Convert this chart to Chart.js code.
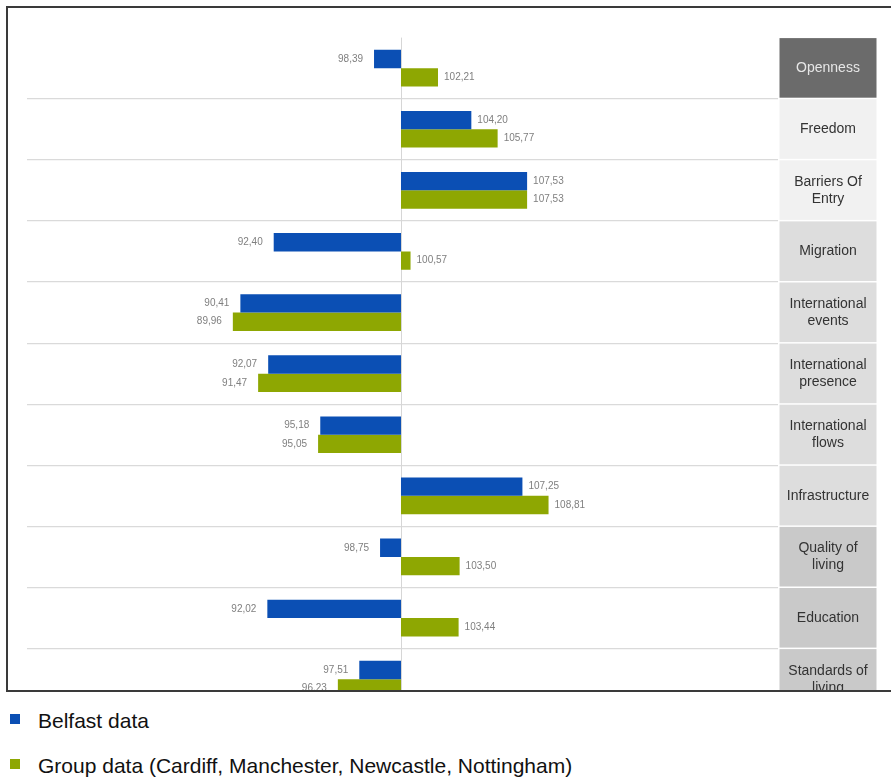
<!DOCTYPE html>
<html>
<head>
<meta charset="utf-8">
<script src="https://cdn.jsdelivr.net/npm/chart.js@4/dist/chart.umd.min.js"></script>
<style>
  html, body { margin: 0; padding: 0; background: #fff; width: 891px; height: 778px; overflow: hidden; }
  #frame { position: absolute; left: 6px; top: 6px; width: 1000px; height: 682px;
           border-left: 2px solid #3a3a3a; border-top: 2px solid #3a3a3a; border-bottom: 2px solid #3a3a3a;
           overflow: hidden; background: #fff; }
  #chart { position: absolute; left: 0; top: 0; }
  .lg { position: absolute; left: 38px; font-family: "Liberation Sans", Arial, sans-serif; font-size: 21px;
        line-height: 21px; color: #111; white-space: nowrap; }
  .bullet { position: absolute; left: 10px; width: 10px; height: 10px; }
</style>
</head>
<body>
<div id="frame"><canvas id="chart" width="883" height="720"></canvas></div>
<div id="legend"></div>
<script>
// ---- data ----
const categories = ['Openness', 'Freedom', ['Barriers Of', 'Entry'], 'Migration',
  ['International', 'events'], ['International', 'presence'], ['International', 'flows'],
  'Infrastructure', ['Quality of', 'living'], 'Education', ['Standards of', 'living']];
const belfastValues = [98.39, 104.20, 107.53, 92.40, 90.41, 92.07, 95.18, 107.25, 98.75, 92.02, 97.51];
const groupValues = [102.21, 105.77, 107.53, 100.57, 89.96, 91.47, 95.05, 108.81, 103.50, 103.44, 96.23];
const seriesNames = ['Belfast data', 'Group data (Cardiff, Manchester, Newcastle, Nottingham)'];
const baseValue = 100;

// ---- styles ----
const seriesColors = ['#0b4fb4', '#8ea702'];
const labelBoxColors = ['#6b6b6b', '#f1f1f1', '#f1f1f1', '#dddddd', '#dddddd', '#dddddd',
  '#dddddd', '#dddddd', '#c9c9c9', '#c9c9c9', '#c9c9c9'];
const labelTextColors = ['#e6e6e6', '#333', '#333', '#333', '#333', '#333', '#333', '#333', '#333', '#333', '#333'];
const FONT = '"Liberation Sans", Arial, sans-serif';

function fmt(v) { return v.toFixed(2).replace('.', ','); }

const centerLinePlugin = {
  id: 'centerLine',
  beforeDatasetsDraw(chart) {
    const { ctx, chartArea, scales } = chart;
    const x = Math.round(scales.x.getPixelForValue(baseValue)) + 0.5;
    ctx.save();
    ctx.strokeStyle = '#d6d6d6';
    ctx.lineWidth = 1;
    ctx.beginPath();
    ctx.moveTo(x, chartArea.top);
    ctx.lineTo(x, chartArea.bottom);
    ctx.stroke();
    ctx.restore();
  }
};

const valueLabelPlugin = {
  id: 'valueLabels',
  afterDatasetsDraw(chart) {
    const { ctx } = chart;
    ctx.save();
    ctx.font = '10px ' + FONT;
    ctx.fillStyle = '#7f7f7f';
    ctx.textBaseline = 'middle';
    chart.data.datasets.forEach((ds, di) => {
      const meta = chart.getDatasetMeta(di);
      meta.data.forEach((el, i) => {
        const v = ds.data[i];
        if (v >= baseValue) {
          ctx.textAlign = 'left';
          ctx.fillText(fmt(v), el.x + 6, el.y);
        } else {
          ctx.textAlign = 'right';
          ctx.fillText(fmt(v), el.x - 11, el.y);
        }
      });
    });
    ctx.restore();
  }
};

const categoryBoxPlugin = {
  id: 'categoryBoxes',
  afterDraw(chart) {
    const { ctx, chartArea, scales } = chart;
    const y = scales.y;
    const n = chart.data.labels.length;
    const band = (chartArea.bottom - chartArea.top) / n;
    const left = chartArea.right + 1.5;
    const width = 97;
    ctx.save();
    chart.data.labels.forEach((lab, i) => {
      const cy = y.getPixelForValue(i);
      const top = cy - band / 2 + 0.5;
      ctx.fillStyle = labelBoxColors[i];
      ctx.fillRect(left, top, width, band - 1.5);
      const lines = Array.isArray(lab) ? lab : [lab];
      ctx.fillStyle = labelTextColors[i];
      ctx.font = '14px ' + FONT;
      ctx.textAlign = 'center';
      ctx.textBaseline = 'middle';
      const lh = 17;
      lines.forEach((t, k) => {
        ctx.fillText(t, left + width / 2, cy + (k - (lines.length - 1) / 2) * lh);
      });
    });
    ctx.restore();
  }
};

new Chart(document.getElementById('chart'), {
  type: 'bar',
  data: {
    labels: categories,
    datasets: [
      { label: seriesNames[0], data: belfastValues, backgroundColor: seriesColors[0], base: baseValue,
        borderWidth: 0, categoryPercentage: 0.6, barPercentage: 1.0 },
      { label: seriesNames[1], data: groupValues, backgroundColor: seriesColors[1], base: baseValue,
        borderWidth: 0, categoryPercentage: 0.6, barPercentage: 1.0 }
    ]
  },
  options: {
    indexAxis: 'y',
    responsive: false,
    animation: false,
    layout: { padding: { top: 29.6, bottom: 18.3, left: 19, right: 113 } },
    plugins: { legend: { display: false }, title: { display: false }, tooltip: { enabled: false } },
    scales: {
      x: { display: false, min: 77.67, max: 122.51 },
      y: {
        position: 'right',
        offset: true,
        ticks: { display: false },
        border: { display: false },
        grid: {
          offset: true,
          drawTicks: false,
          lineWidth: 1.2,
          color: (c) => (c.index === 0 ? 'rgba(0,0,0,0)' : '#dadada')
        },
        afterFit(scale) { scale.width = 0; }
      }
    }
  },
  plugins: [centerLinePlugin, valueLabelPlugin, categoryBoxPlugin]
});

// HTML legend built from the series names
const legendTops = [710, 755];
const legend = document.getElementById('legend');
seriesNames.forEach((name, i) => {
  const b = document.createElement('div');
  b.className = 'bullet';
  b.style.top = (legendTops[i] + 4) + 'px';
  b.style.background = seriesColors[i];
  legend.appendChild(b);
  const t = document.createElement('div');
  t.className = 'lg';
  t.style.top = legendTops[i] + 'px';
  t.textContent = name;
  legend.appendChild(t);
});
</script>
</body>
</html>
